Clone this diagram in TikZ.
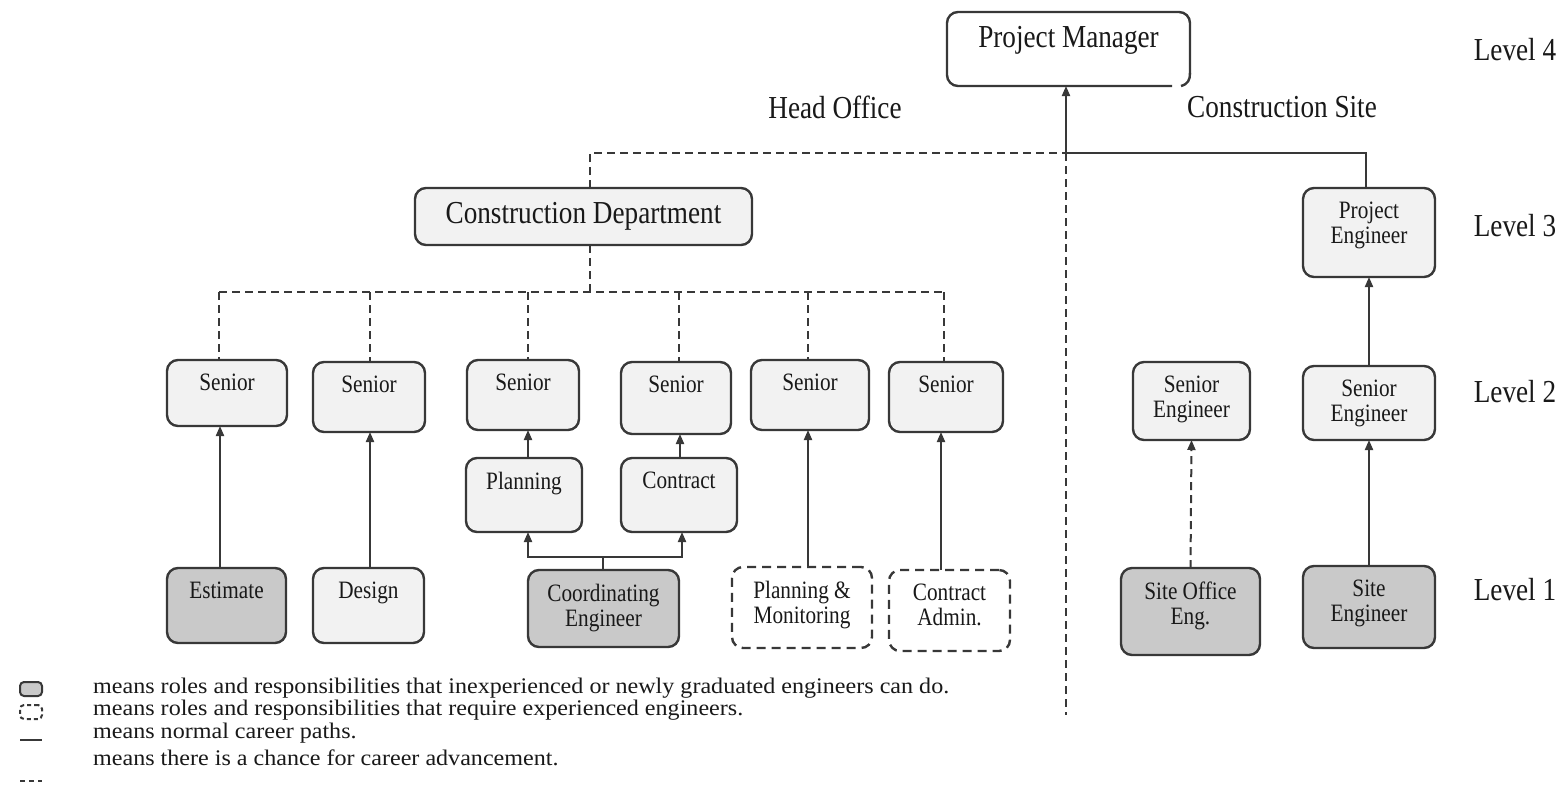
\documentclass[tikz,border=0pt]{standalone}
\usepackage{fontspec}
\setmainfont{Liberation Serif}[FakeStretch=0.85]
\newfontfamily\keyfont{Liberation Serif}[FakeStretch=1.08]
\usetikzlibrary{arrows.meta}
\definecolor{edge}{HTML}{383838}
\definecolor{lightfill}{HTML}{F2F2F2}
\definecolor{darkfill}{HTML}{C9C9C9}
% #1 name, #2 box style, #3 text style, #4-#7 corners (x1,y1,x2,y2), #8 text
\newcommand\rolebox[8]{%
  \node[#2, anchor=north west, minimum width={#6-#4}, minimum height={#7-#5}] (#1) at (#4,#5) {};
  \node[#3, anchor=north, yshift=-14pt] (#1-t) at (#1.north) {#8};
}
\begin{document}
\begin{tikzpicture}[x=1pt,y=-1pt,
  rolebase/.style={rectangle, rounded corners=11pt, line width=2.4pt, draw=edge, inner sep=0pt, outer sep=0pt},
  plainrole/.style={rolebase, fill=lightfill},
  juniorrole/.style={rolebase, fill=darkfill},
  seniorrole/.style={rolebase, fill=white, dash pattern=on 9pt off 6pt},
  pmrole/.style={rolebase, draw=none, fill=white},
  boxtext/.style={font=\fontsize{25}{24.5}\selectfont, align=center, inner sep=0pt, text=black!90},
  bigtext/.style={font=\fontsize{32}{34}\selectfont, inner sep=0pt, text=black!90},
  headtext/.style={font=\fontsize{32}{34}\selectfont, inner sep=0pt, text=black!90},
  keytext/.style={font=\keyfont\fontsize{22.3}{23}\selectfont, inner sep=0pt, anchor=west, text=black!90},
  careerline/.style={line width=2pt, draw=edge},
  chanceline/.style={careerline, dash pattern=on 8pt off 5pt},
  headarrow/.style={-{Triangle[length=10pt,width=8pt]}},
]
\useasboundingbox (0,0) rectangle (1562,806);
\fill[white] (0,0) rectangle (1562,806);

% junction points of the connector network
\coordinate (hoL) at (590,153);
\coordinate (j1) at (1066,153);
\coordinate (csR) at (1366,153);
\coordinate (pmend) at (1066,715);
\coordinate (bus) at (590,292);
\coordinate (b1) at (219,292);
\coordinate (b2) at (370,292);
\coordinate (b3) at (528,292);
\coordinate (b4) at (679,292);
\coordinate (b5) at (808,292);
\coordinate (b6) at (944,292);
\coordinate (a1) at (220,0);
\coordinate (a2) at (370,0);
\coordinate (a3) at (528,0);
\coordinate (a4) at (680,0);
\coordinate (a5) at (808,0);
\coordinate (a6) at (941,0);
\coordinate (cb) at (603,557);

% role boxes
\rolebox{pm}{pmrole}{bigtext}{947}{12}{1190}{86}{Project Manager}
\rolebox{cd}{plainrole}{bigtext}{415}{188}{752}{245}{Construction Department}
\rolebox{pe}{plainrole}{boxtext}{1303}{188}{1435}{277}{Project\\Engineer}

\rolebox{s1}{plainrole}{boxtext}{167}{360}{287}{426}{Senior}
\rolebox{s2}{plainrole}{boxtext}{313}{362}{425}{432}{Senior}
\rolebox{s3}{plainrole}{boxtext}{467}{360}{579}{430}{Senior}
\rolebox{s4}{plainrole}{boxtext}{621}{362}{731}{434}{Senior}
\rolebox{s5}{plainrole}{boxtext}{751}{360}{869}{430}{Senior}
\rolebox{s6}{plainrole}{boxtext}{889}{362}{1003}{432}{Senior}
\rolebox{seL}{plainrole}{boxtext}{1133}{362}{1250}{440}{Senior\\Engineer}
\rolebox{seR}{plainrole}{boxtext}{1303}{366}{1435}{440}{Senior\\Engineer}

\rolebox{pl}{plainrole}{boxtext}{466}{458}{582}{532}{Planning}
\rolebox{ct}{plainrole}{boxtext}{621}{458}{737}{532}{Contract}

\rolebox{est}{juniorrole}{boxtext}{167}{568}{286}{643}{Estimate}
\rolebox{des}{plainrole}{boxtext}{313}{568}{424}{643}{Design}
\rolebox{ce}{juniorrole}{boxtext}{528}{570}{679}{647}{Coordinating\\Engineer}
\rolebox{pmon}{seniorrole}{boxtext}{732}{567}{872}{648}{Planning \&\\Monitoring}
\rolebox{ca}{seniorrole}{boxtext}{889}{570}{1010}{651}{Contract\\Admin.}
\rolebox{so}{juniorrole}{boxtext}{1121}{568}{1260}{655}{Site Office\\Eng.}
\rolebox{se}{juniorrole}{boxtext}{1303}{566}{1435}{648}{Site\\Engineer}

% Project Manager outline, left open at the lower right corner
\draw[edge, line width=2.4pt, rounded corners=11pt] (1172,86) -- (947,86) -- (947,12) -- (1190,12) -- (1190,74);
\draw[edge, line width=2.4pt] (1190,73) .. controls (1190,80) and (1188,84) .. (1181,86);

% head office / construction site split
\draw[chanceline] (cd.north -| hoL) -- (hoL) -- (j1);
\draw[careerline] (j1) -- (csR) -- (pe.north -| csR);
\draw[careerline, headarrow] (j1) -- (j1 |- pm.south);
\draw[chanceline] (j1) -- (pmend);

% department bus
\draw[chanceline] (cd.south -| bus) -- (bus);
\draw[chanceline] (b1) -- (b6);
\draw[chanceline] (b1) -- (b1 |- s1.north);
\draw[chanceline] (b2) -- (b2 |- s2.north);
\draw[chanceline] (b3) -- (b3 |- s3.north);
\draw[chanceline] (b4) -- (b4 |- s4.north);
\draw[chanceline] (b5) -- (b5 |- s5.north);
\draw[chanceline] (b6) -- (b6 |- s6.north);

% career paths in the head office
\draw[careerline, headarrow] (est.north -| a1) -- (s1.south -| a1);
\draw[careerline, headarrow] (des.north -| a2) -- (s2.south -| a2);
\draw[careerline, headarrow] (pl.north -| a3) -- (s3.south -| a3);
\draw[careerline, headarrow] (ct.north -| a4) -- (s4.south -| a4);
\draw[careerline] (ce.north -| cb) -- (cb);
\draw[careerline, headarrow] (cb) -| (pl.south -| a3);
\draw[careerline, headarrow] (cb) -| ([xshift=3pt]ct.south);
\draw[careerline, headarrow] (pmon.north -| a5) -- (s5.south -| a5);
\draw[careerline, headarrow] (ca.north -| a6) -- (s6.south -| a6);

% career paths on site
\draw[chanceline, headarrow] (so.north) -- (seL.south);
\draw[careerline, headarrow] (se.north) -- (seR.south);
\draw[careerline, headarrow] (seR.north) -- (pe.south);

% headings and levels
\node[headtext] (ho) at (835,107) {Head Office};
\node[headtext] (cs) at (1282,107) {Construction Site};
\node[headtext] (l4) at (1515,50) {Level 4};
\node[headtext] (l3) at (1515,226) {Level 3};
\node[headtext] (l2) at (1515,392) {Level 2};
\node[headtext] (l1) at (1515,590) {Level 1};

% key
\node[rolebase, fill=darkfill, rounded corners=4pt, line width=2pt, minimum width=22, minimum height=14, anchor=north west] (key1) at (20,682) {};
\node[rolebase, fill=white, dash pattern=on 4pt off 3pt, rounded corners=4pt, line width=2pt, minimum width=22, minimum height=14, anchor=north west] (key2) at (20,705) {};
\coordinate (key3a) at (20,740);
\coordinate (key3b) at (42,740);
\coordinate (key4a) at (20,781);
\coordinate (key4b) at (42,781);
\draw[careerline] (key3a) -- (key3b);
\draw[careerline, dash pattern=on 5pt off 4pt] (key4a) -- (key4b);
\node[keytext] (key1-t) at (93,688) {means roles and responsibilities that inexperienced or newly graduated engineers can do.};
\node[keytext] (key2-t) at (93,710) {means roles and responsibilities that require experienced engineers.};
\node[keytext] (key3-t) at (93,733) {means normal career paths.};
\node[keytext] (key4-t) at (93,758) {means there is a chance for career advancement.};
\end{tikzpicture}
\end{document}
